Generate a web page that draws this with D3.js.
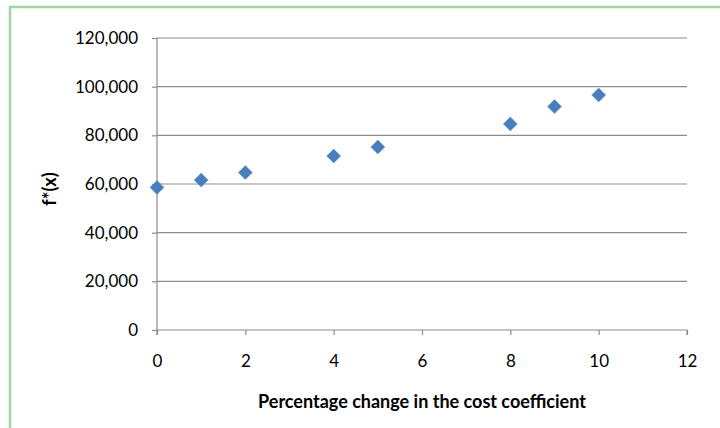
<!DOCTYPE html>
<html>
<head>
<meta charset="utf-8">
<script src="https://cdn.jsdelivr.net/npm/d3@7"></script>
<style>
  body { margin: 0; background: #fff; }
  svg { display: block; font-family: Lato, "Open Sans", sans-serif; }
</style>
</head>
<body>
<svg id="chart"></svg>
<script>
// data
const percentChange = [0, 1, 2, 4, 5, 8, 9, 10];
const fValues = [58600, 61600, 64700, 71500, 75200, 84700, 91800, 96600];
const xTicks = [0, 2, 4, 6, 8, 10, 12];
const yTicks = [0, 20000, 40000, 60000, 80000, 100000, 120000];

const width = 720, height = 428;
const margin = { top: 38, right: 33, bottom: 98, left: 157 };

const svg = d3.select('#chart')
    .attr('width', width)
    .attr('height', height);

// green frame (only top and left edges visible in the crop)
svg.append('rect')
    .attr('x', 10).attr('y', 7)
    .attr('width', 760).attr('height', 460)
    .attr('fill', 'none')
    .attr('stroke', '#9fd6a4')
    .attr('stroke-width', 2.5);

const innerW = width - margin.left - margin.right;
const innerH = height - margin.top - margin.bottom;

const x = d3.scaleLinear().domain([0, 12]).range([0, innerW]);
const y = d3.scaleLinear().domain([0, 120000]).range([innerH, 0]);

const chart = svg.append('g')
    .attr('transform', `translate(${margin.left}, ${margin.top})`);

// horizontal gridlines
chart.append('g')
    .selectAll('line')
    .data(yTicks.filter(d => d > 0))
    .join('line')
    .attr('x1', 0).attr('x2', innerW)
    .attr('y1', d => y(d)).attr('y2', d => y(d))
    .attr('stroke', '#8c8c8c')
    .attr('stroke-width', 1.2);

const fmt = d3.format(',');

const yAxis = chart.append('g')
    .call(d3.axisLeft(y).tickValues(yTicks).tickFormat(fmt).tickSize(5).tickPadding(14));

const xAxis = chart.append('g')
    .attr('transform', `translate(0, ${innerH})`)
    .call(d3.axisBottom(x).tickValues(xTicks).tickSize(5).tickPadding(20));

[xAxis, yAxis].forEach(a => {
    a.select('.domain').attr('stroke', '#8c8c8c').attr('stroke-width', 1.2);
    a.selectAll('.tick line').attr('stroke', '#8c8c8c').attr('stroke-width', 1.2);
    a.selectAll('.tick text')
        .attr('fill', '#000')
        .style('font-size', '17px')
        .style('font-family', 'Lato, "Open Sans", sans-serif');
});
// Excel-style axis lines
xAxis.select('.domain').attr('d', `M0,5V0H${innerW}V5`);
yAxis.select('.domain').attr('d', `M0,0V${innerH}`);

// diamond markers
chart.append('g')
    .selectAll('path')
    .data(percentChange.map((p, i) => ({ p, v: fValues[i] })))
    .join('path')
    .attr('transform', d => `translate(${x(d.p)}, ${y(d.v)})`)
    .attr('d', 'M0,-7L7,0L0,7L-7,0Z')
    .attr('fill', '#4a7ebb')
    .attr('stroke', '#6f98c9')
    .attr('stroke-width', 0.6);

// axis titles
svg.append('text')
    .attr('x', margin.left + innerW / 2)
    .attr('y', 408)
    .attr('text-anchor', 'middle')
    .style('font-size', '18px')
    .style('font-weight', 'bold')
    .text('Percentage change in the cost coefficient');

svg.append('text')
    .attr('transform', `translate(56, 189) rotate(-90)`)
    .attr('text-anchor', 'middle')
    .style('font-size', '18px')
    .style('font-weight', 'bold')
    .text('f*(x)');
</script>
</body>
</html>
